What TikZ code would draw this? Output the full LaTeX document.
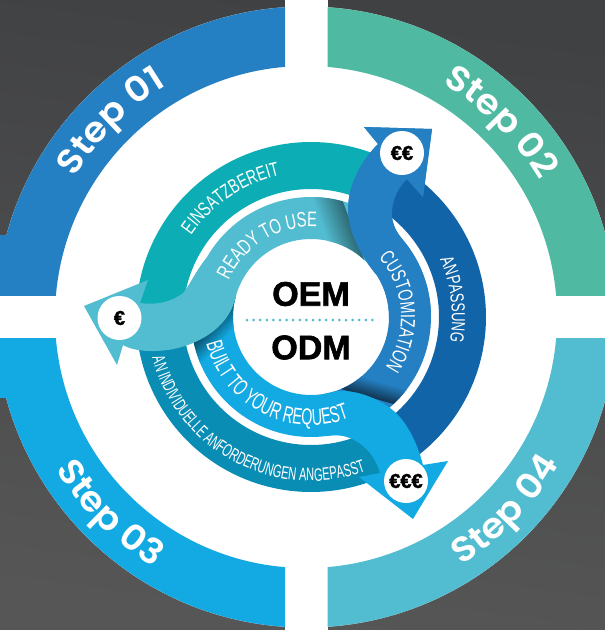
\documentclass[tikz,border=0pt]{standalone}
\usepackage{fontspec}
\usetikzlibrary{calc,decorations.text}
\setmainfont{Liberation Sans}
\newfontfamily\stepfont{Poppins}[BoldFont=* SemiBold,FakeStretch=1.06]
\newfontfamily\condA[FakeStretch=0.7]{Liberation Sans}
\newfontfamily\condB[FakeStretch=0.62]{Liberation Sans}
\newfontfamily\heavy[FakeBold=1.8]{Liberation Sans Bold}
\definecolor{qone}{HTML}{2580C3}
\definecolor{qtwo}{HTML}{4FB9A1}
\definecolor{qthree}{HTML}{13A9E2}
\definecolor{qfour}{HTML}{52BCD0}
\definecolor{teal1}{HTML}{0CADB5}
\definecolor{teal2}{HTML}{0A8DB5}
\definecolor{navy1}{HTML}{1264A8}
\definecolor{bgtop}{HTML}{404143}
\definecolor{bgbot}{HTML}{565656}
\newcommand\band[4]{($(rc)+(#1:#3)$) arc[start angle=#1,end angle=#2,radius=#3] -- ($(rc)+(#2:#4)$) arc[start angle=#2,end angle=#1,radius=#4] -- cycle}
% blue arrow: #1 inner start angle, #2 outer end angle
\newcommand\bluearrow[2]{($(rc)+(#1:78)$) arc[start angle=#1,end angle=32,radius=78]
  .. controls (362,-258) and (348,-232) .. (348,-210)
  .. controls (348,-184) and (362,-160) .. (378,-144)
  -- (364,-127) -- (432,-129) -- (423,-197) -- (407,-179)
  .. controls (395,-190) and (391,-205) .. (392,-217)
  .. controls (393,-225) and (396,-232) .. ($(rc)+(40:120)$)
  arc[start angle=40,end angle=#2,radius=120] -- cycle}
\newcommand\skyarrow{($(rc)+(165:78)$) arc[start angle=165,end angle=286,radius=78]
  .. controls (345,-389) and (368,-392) .. (390,-408)
  .. controls (407,-420) and (418,-445) .. (423,-465)
  -- (448,-461) -- (413,-519) -- (359,-477) -- (380,-473)
  .. controls (376,-458) and (365,-443) .. (347,-437)
  .. controls (338,-434) and (329,-436) .. ($(rc)+(274:120)$)
  arc[start angle=274,end angle=190,radius=120] -- cycle}
\newcommand\lightarrow{($(rc)+(40:78)$) arc[start angle=40,end angle=165,radius=78]
  .. controls (229,-330) and (190,-352) .. (150,-351)
  .. controls (140,-351) and (130,-349) .. (123,-345)
  -- (117,-365) -- (84,-306) -- (148,-280) -- (140,-303)
  .. controls (155,-305) and (170,-303) .. (183,-293)
  .. controls (190,-285) and (195,-272) .. ($(rc)+(150:120)$)
  arc[start angle=150,end angle=65,radius=120] -- cycle}
\tikzset{
  ringtext/.style args={#1/#2}{decorate,decoration={text along path,text align=center,text={|#1\color{white}|#2}}},
  coin/.style={circle,fill=white,minimum size=44pt,inner sep=0pt,font=\heavy\fontsize{20}{20}\selectfont,text=black},
  bigword/.style={font=\heavy\fontsize{34}{34}\selectfont,text=black,inner sep=0pt},
  dotline/.style={draw=qfour,line width=3pt,line cap=round,dash pattern=on 0pt off 6.6pt}
}
\begin{document}
\begin{tikzpicture}[x=1pt,y=1pt]
\useasboundingbox (0,-630) rectangle (605,0);
\coordinate (qc) at (306,-317);
\coordinate (rc) at (311,-317);
% background
\shade[top color=bgtop,bottom color=bgbot,shading angle=-8] (0,-630) rectangle (605,0);
\fill[white] (qc) circle (310.5);
\fill[white] (285,-10) rectangle (327.5,0);
\fill[white] (285,-630) rectangle (327.5,-620);
\fill[white] (0,-338) rectangle (10,-295);
\fill[white] (595,-338) rectangle (605,-295);
% outer quadrants
\begin{scope}\clip (0,-295) rectangle (285,0);
  \fill[qone,even odd rule] (qc) circle (310.5) (qc) circle (251);
  \fill[qone] (0,-295) rectangle (8,-235);
\end{scope}
\begin{scope}\clip (327.5,-295) rectangle (605,0);
  \fill[qtwo,even odd rule] (qc) circle (310.5) (qc) circle (251);
\end{scope}
\begin{scope}\clip (0,-630) rectangle (285,-338);
  \fill[qthree,even odd rule] (qc) circle (310.5) (qc) circle (251);
  \fill[qthree] (0,-398) rectangle (8,-338);
\end{scope}
\begin{scope}\clip (327.5,-630) rectangle (605,-338);
  \fill[qfour,even odd rule] (qc) circle (310.5) (qc) circle (251);
\end{scope}
% outer ring bands
\fill[teal1] \band{65}{180}{175}{128};
\fill[navy1] \band{60}{-55}{175}{128};
\fill[teal2] \band{180}{295}{175}{128};
% blue arrow, with the shadow of the sky arrow
\fill[qone] \bluearrow{-80}{-50};
\begin{scope}
  \clip \band{-90}{0}{120}{78};
  \shade[transform canvas={rotate around={74:(362,-395)}},left color=black!60!qone,right color=qone] (362,-455) rectangle (380,-335);
\end{scope}
% sky arrow, with the shadow of the light arrow
\fill[qthree] \skyarrow;
\begin{scope}
  \clip \band{160}{250}{120}{78};
  \shade[transform canvas={rotate around={-43:(212,-322)}},left color=black!55!qthree,right color=qthree] (212,-382) rectangle (232,-262);
\end{scope}
% light arrow, with the shadow of the blue arrow
\fill[qfour] \lightarrow;
\begin{scope}
  \clip \band{40}{100}{120}{78};
  \shade[transform canvas={rotate around={200:(358,-243)}},left color=black!45!qfour,right color=qfour] (358,-303) rectangle (386,-183);
\end{scope}
% upper part of the blue arrow lies over the light arrow
\fill[qone] \bluearrow{0}{0};
% coins
\node[coin] (c1) at (119.5,-318) {€};
\node[coin] (c2) at (402,-153) {€€};
\node[coin] (c3) at (406,-481) {€€€};
% centre
\node[bigword] (oem) at (311,-294) {OEM};
\node[bigword] (odm) at (311,-347.5) {ODM};
\draw[dotline] (247,-320) -- (375,-320);
% step labels
\path[ringtext={\stepfont\bfseries\fontsize{35}{35}\selectfont/Step 01}] ($(qc)+(175:270)$) arc[start angle=175,end angle=95,radius=270];
\path[ringtext={\stepfont\bfseries\fontsize{35}{35}\selectfont/Step 02}] ($(qc)+(85:270)$) arc[start angle=85,end angle=5,radius=270];
\path[ringtext={\stepfont\bfseries\fontsize{35}{35}\selectfont/Step 03}] ($(qc)+(185:293)$) arc[start angle=185,end angle=265,radius=293];
\path[ringtext={\stepfont\bfseries\fontsize{35}{35}\selectfont/Step 04}] ($(qc)+(-84:293)$) arc[start angle=-84,end angle=-4,radius=293];
% ring labels
\path[ringtext={\condA\fontsize{20}{20}\selectfont/EINSATZBEREIT}] ($(rc)+(170:145)$) arc[start angle=170,end angle=78,radius=145];
\path[ringtext={\condA\fontsize{21}{21}\selectfont/READY TO USE}] ($(rc)+(171:90)$) arc[start angle=171,end angle=71,radius=90];
\path[ringtext={\condA\fontsize{20.5}{20.5}\selectfont/CUSTOMIZATION}] ($(rc)+(53:90)$) arc[start angle=53,end angle=-46,radius=90];
\path[ringtext={\condA\fontsize{19}{19}\selectfont/ANPASSUNG}] ($(rc)+(46:141)$) arc[start angle=46,end angle=-32,radius=141];
\path[ringtext={\condB\fontsize{23}{23}\selectfont/BUILT TO YOUR REQUEST}] ($(rc)+(190:108)$) arc[start angle=190,end angle=295,radius=108];
\path[ringtext={\condB\fontsize{18}{18}\selectfont/AN INDIVIDUELLE ANFORDERUNGEN ANGEPASST}] ($(rc)+(190:164)$) arc[start angle=190,end angle=294,radius=164];
\end{tikzpicture}
\end{document}
